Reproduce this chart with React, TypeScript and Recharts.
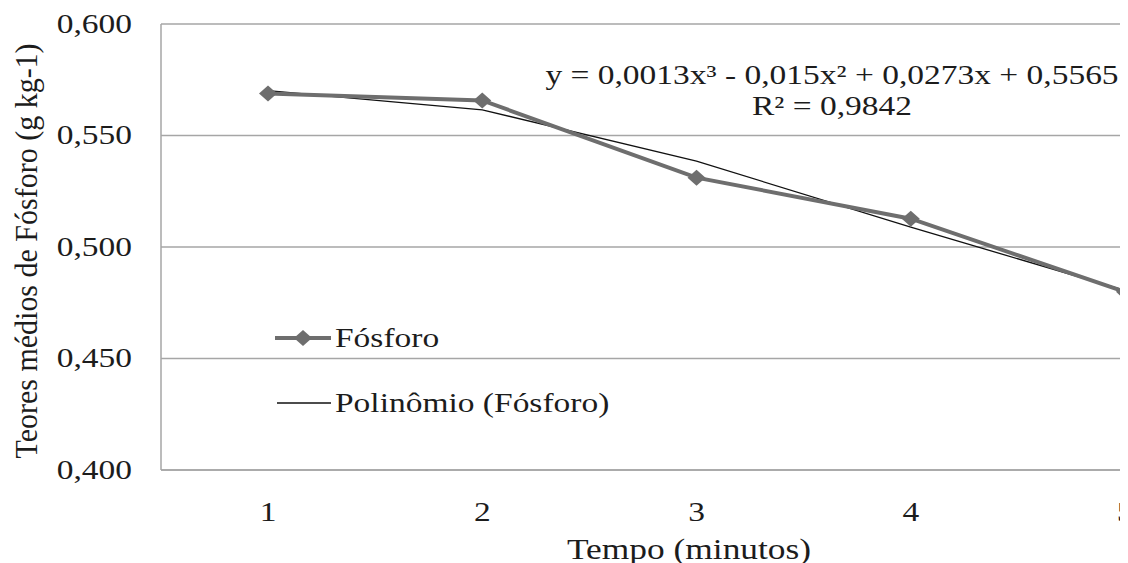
import React from 'react';
import { LineChart, Line, XAxis, YAxis, CartesianGrid, Legend } from 'recharts';

const tempos = ['1', '2', '3', '4', '5'];
const fosforo = [0.5688, 0.5657, 0.5311, 0.5127, 0.4799];
const polinomio = [0.5701, 0.5615, 0.5385, 0.5089, 0.4805];
const yTicks = [0.4, 0.45, 0.5, 0.55, 0.6];

const equation = 'y = 0,0013x³ - 0,015x² + 0,0273x + 0,5565';
const rSquared = 'R² = 0,9842';

const data = tempos.map((t, i) => ({ t, fosforo: fosforo[i], poly: polinomio[i] }));

const FONT = '"Liberation Serif", "Times New Roman", serif';
const SX = 1.24; // the original picture is stretched sideways
const TEXT = '#1c1c1c';
const GRAY = '#6e6e6e';
const GRID = '#a6a6a6';

const Stretched = ({ x, y, anchor = 'middle', rotate = 0, size = 27, sx = SX, children }: any) => (
  <text
    transform={`translate(${x},${y}) scale(${sx},1)${rotate ? ` rotate(${rotate})` : ''}`}
    textAnchor={anchor}
    dominantBaseline="central"
    fontFamily={FONT}
    fontSize={size}
    fill={TEXT}
  >
    {children}
  </text>
);

const YTick = ({ x, y, payload }: any) => (
  <Stretched x={x - 21} y={y} anchor="end">
    {payload.value.toFixed(3).replace('.', ',')}
  </Stretched>
);

const XTick = ({ x, y, payload }: any) => (
  <Stretched x={x} y={y + 34}>{payload.value}</Stretched>
);

const Diamond = ({ cx, cy }: any) => {
  if (cx == null || cy == null) return null;
  return <polygon points={`${cx - 9},${cy} ${cx},${cy - 8} ${cx + 9},${cy} ${cx},${cy + 8}`} fill={GRAY} />;
};

const LegendBox = () => (
  <svg width={340} height={110}>
    <line x1={2} y1={20} x2={58} y2={20} stroke={GRAY} strokeWidth={4} />
    <polygon points="21,20 30,12 39,20 30,28" fill={GRAY} />
    <Stretched x={62} y={20} anchor="start">Fósforo</Stretched>
    <line x1={4} y1={85} x2={58} y2={85} stroke="#111" strokeWidth={1.3} />
    <Stretched x={62} y={85} anchor="start">Polinômio (Fósforo)</Stretched>
  </svg>
);

export default function App() {
  return (
    <div style={{ width: 1120, height: 555, overflow: 'hidden', position: 'relative', background: '#fff' }}>
      <LineChart width={1240} height={555} data={data} margin={{ top: 16, right: 16, left: 0, bottom: 0 }}>
        <CartesianGrid vertical={false} stroke={GRID} strokeWidth={1.5} />
        <XAxis
          dataKey="t"
          height={93}
          padding={{ left: 107, right: 107 }}
          axisLine={{ stroke: GRID, strokeWidth: 1.5 }}
          tickLine={false}
          tick={<XTick />}
          interval={0}
        />
        <YAxis
          width={153}
          domain={[0.4, 0.6]}
          ticks={yTicks}
          axisLine={{ stroke: GRID, strokeWidth: 1.5 }}
          tickLine={false}
          tick={<YTick />}
        />
        <Legend
          layout="horizontal"
          align="center"
          verticalAlign="middle"
          wrapperStyle={{ left: 265, top: 310, width: 340, height: 110 }}
          content={<LegendBox />}
        />
        <Line
          dataKey="poly"
          name="Polinômio (Fósforo)"
          stroke="#111"
          strokeWidth={1.3}
          dot={false}
          isAnimationActive={false}
        />
        <Line
          dataKey="fosforo"
          name="Fósforo"
          stroke={GRAY}
          strokeWidth={4}
          dot={<Diamond />}
          activeDot={false}
          isAnimationActive={false}
        />
        <Stretched x={824} y={67}>{equation}</Stretched>
        <Stretched x={824} y={98}>{rSquared}</Stretched>
        <Stretched x={19} y={243} rotate={-90} size={30} sx={1.05}>Teores médios de Fósforo (g kg-1)</Stretched>
        <Stretched x={681} y={541} size={30} sx={1.18}>Tempo (minutos)</Stretched>
      </LineChart>
    </div>
  );
}
